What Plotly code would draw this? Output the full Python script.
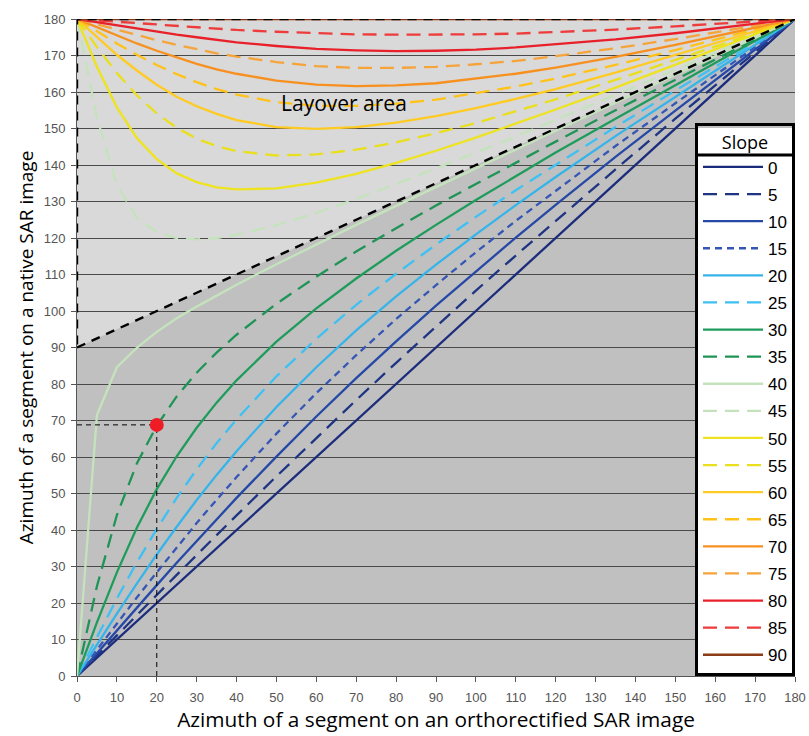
import plotly.graph_objects as go

# Azimuth on the orthorectified image (x) at which the curves were read
x_grid = [0, 5, 10, 15, 20, 25, 30, 35, 40, 50, 60, 70, 80, 90, 100, 110, 120, 135, 150, 165, 180]

# Azimuth on the native SAR image (y), one list per slope
s0 = [0, 5, 10, 15, 20, 25, 30, 35, 40, 50, 60, 70, 80, 90, 100, 110, 120, 135, 150, 165, 180]
s5 = [0, 5.6, 11.1, 16.7, 22.2, 27.7, 33.2, 38.6, 44.0, 54.7, 65.2, 75.6, 85.8, 95.7, 105.6, 115.2, 124.7, 138.8, 152.7, 166.4, 180]
s10 = [0, 6.3, 12.5, 18.7, 24.9, 31.0, 37.0, 43.0, 48.8, 60.1, 71.1, 81.6, 91.7, 101.5, 110.9, 120.1, 129.1, 142.2, 154.9, 167.5, 180]
s15 = [0, 7.2, 14.4, 21.5, 28.4, 35.2, 41.9, 48.3, 54.5, 66.4, 77.5, 87.9, 97.8, 107.1, 116.1, 124.7, 133.0, 145.2, 156.9, 168.5, 180]
s20 = [0, 8.6, 17.1, 25.3, 33.3, 40.9, 48.2, 55.1, 61.6, 73.7, 84.6, 94.7, 104.0, 112.7, 121.0, 129.0, 136.7, 147.9, 158.7, 169.4, 180]
s25 = [0, 10.7, 21.2, 31.1, 40.3, 48.8, 56.6, 63.8, 70.3, 82.1, 92.4, 101.7, 110.2, 118.2, 125.8, 133.1, 140.1, 150.4, 160.4, 170.2, 180]
s30 = [0, 14.7, 28.4, 40.6, 51.2, 60.2, 68.0, 74.9, 81.0, 91.6, 100.7, 108.9, 116.5, 123.6, 130.4, 137.0, 143.4, 152.7, 161.9, 171.0, 180]
s35 = [0, 24.6, 44.1, 58.2, 68.6, 76.6, 83.1, 88.6, 93.5, 102.0, 109.4, 116.3, 122.7, 128.9, 134.8, 140.7, 146.4, 155.0, 163.4, 171.7, 180]
s40 = [0, 71.5, 84.6, 89.9, 94.3, 98.0, 101.2, 104.3, 107.2, 112.8, 118.3, 123.6, 128.8, 134.0, 139.2, 144.3, 149.4, 157.1, 164.8, 172.4, 180]
s45 = [180, 153.0, 134.6, 125.5, 121.6, 120.0, 119.6, 120.0, 120.9, 123.5, 126.9, 130.7, 134.8, 139.0, 143.4, 147.8, 152.3, 159.2, 166.1, 173.0, 180]
s50 = [180, 166.9, 155.8, 147.4, 141.6, 137.7, 135.3, 133.9, 133.3, 133.6, 135.2, 137.6, 140.6, 143.9, 147.5, 151.3, 155.2, 161.2, 167.4, 173.7, 180]
s55 = [180, 172.3, 165.2, 159.1, 154.1, 150.2, 147.2, 145.2, 143.8, 142.6, 142.9, 144.2, 146.2, 148.7, 151.5, 154.7, 158.0, 163.3, 168.7, 174.3, 180]
s60 = [180, 175.0, 170.2, 165.9, 162.0, 158.7, 156.1, 154.0, 152.3, 150.4, 149.9, 150.4, 151.6, 153.4, 155.6, 158.1, 160.8, 165.3, 170.1, 175.0, 180]
s65 = [180, 176.6, 173.3, 170.2, 167.4, 164.9, 162.7, 160.8, 159.3, 157.2, 156.2, 156.2, 156.8, 157.9, 159.6, 161.5, 163.7, 167.4, 171.5, 175.7, 180]
s70 = [180, 177.7, 175.4, 173.3, 171.3, 169.4, 167.7, 166.2, 165.0, 163.1, 162.0, 161.6, 161.8, 162.4, 163.6, 165.0, 166.7, 169.6, 172.9, 176.4, 180]
s75 = [180, 178.5, 177.0, 175.6, 174.2, 172.9, 171.7, 170.6, 169.7, 168.2, 167.1, 166.6, 166.6, 166.9, 167.6, 168.5, 169.8, 172.0, 174.5, 177.2, 180]
s80 = [180, 179.1, 178.2, 177.3, 176.5, 175.7, 175.0, 174.3, 173.6, 172.6, 171.8, 171.4, 171.2, 171.3, 171.6, 172.2, 173.0, 174.4, 176.1, 178.0, 180]
s85 = [180, 179.6, 179.2, 178.8, 178.4, 178.0, 177.7, 177.3, 177.0, 176.5, 176.1, 175.8, 175.7, 175.7, 175.8, 176.0, 176.4, 177.1, 178.0, 179.0, 180]
s90 = [180, 180, 180, 180, 180, 180, 180, 180, 180, 180, 180, 180, 180, 180, 180, 180, 180, 180, 180, 180, 180]

slope_labels = ["0", "5", "10", "15", "20", "25", "30", "35", "40", "45",
                "50", "55", "60", "65", "70", "75", "80", "85", "90"]
slope_values = [s0, s5, s10, s15, s20, s25, s30, s35, s40, s45,
                s50, s55, s60, s65, s70, s75, s80, s85, s90]
colors = ["#1c2c7c", "#1f3583", "#2648a6", "#3556b4", "#36b4ea", "#3fc0f2", "#1f9c5c", "#1f9456",
          "#c4e3bc", "#c4e3bc", "#ede31e", "#e9df1c", "#ffcb23", "#ffc21a", "#f7901e", "#f6a33a",
          "#e8202a", "#ee3b3b", "#8b3c14"]
dashes = ["solid", "14px,8px", "solid", "7px,5px", "solid", "14px,8px", "solid", "14px,8px",
          "solid", "14px,8px", "solid", "14px,8px", "solid", "14px,8px", "solid", "14px,8px",
          "solid", "14px,8px", "solid"]

# Layover area boundary (image azimuth where layover begins)
layover_x = [0, 180, 0, 0]
layover_y = [90, 180, 180, 90]

# Worked example point
example_x = [20]
example_y = [68.8]

fig = go.Figure()

path = "M " + " L ".join(f"{a},{b}" for a, b in zip(layover_x, layover_y)) + " Z"
fig.add_shape(type="path", path=path, xref="x", yref="y", layer="below",
              fillcolor="#d9d9d9", line=dict(width=0))

for i, (lab, yv) in enumerate(zip(slope_labels, slope_values)):
    fig.add_trace(go.Scatter(
        x=x_grid, y=yv, mode="lines", name=lab, legendgroup=lab,
        line=dict(color=colors[i], width=2.3, dash=dashes[i]),
        cliponaxis=False,
    ))

fig.add_trace(go.Scatter(x=layover_x, y=layover_y, mode="lines", showlegend=False,
                         line=dict(color="black", width=2.4, dash="9px,7px"), cliponaxis=False))

fig.add_trace(go.Scatter(x=[0, example_x[0]], y=[example_y[0], example_y[0]], mode="lines",
                         showlegend=False, line=dict(color="black", width=1, dash="5px,4px")))
fig.add_trace(go.Scatter(x=[example_x[0], example_x[0]], y=[0, example_y[0]], mode="lines",
                         showlegend=False, line=dict(color="black", width=1, dash="5px,4px")))
fig.add_trace(go.Scatter(x=example_x, y=example_y, mode="markers", showlegend=False,
                         marker=dict(color="#ee1c24", size=14)))

fig.add_annotation(x=67, y=157, xref="x", yref="y", text="Layover area", showarrow=False,
                   font=dict(family="Open Sans", size=21, color="black"))

# white panel behind the (transparent) legend, and the line under its title
fig.add_shape(type="rect", xref="paper", yref="paper", x0=0.8635, x1=1.0, y0=0, y1=0.834,
              fillcolor="white", line=dict(width=0), layer="above")
fig.add_shape(type="line", xref="paper", yref="paper", x0=0.8635, x1=1.0, y0=0.793, y1=0.793,
              line=dict(color="black", width=3), layer="above")

tickfont = dict(family="Liberation Sans", size=13, color="#555555")
fig.update_xaxes(range=[0, 180], tick0=0, dtick=10, showgrid=False, zeroline=False,
                 ticks="outside", ticklen=5, tickcolor="#555555", showline=True,
                 linecolor="#555555", linewidth=1, tickfont=tickfont, automargin=False,
                 ticklabelstandoff=4,
                 title=dict(text="Azimuth of a segment on an orthorectified SAR image",
                            font=dict(family="Open Sans", size=20.8, color="black"), standoff=2))
fig.update_yaxes(range=[0, 180], tick0=0, dtick=10, showgrid=True, gridcolor="#4a4a4a",
                 gridwidth=1.2, zeroline=False, ticks="outside", ticklen=5, tickcolor="#555555",
                 showline=True, linecolor="#555555", linewidth=1, tickfont=tickfont,
                 automargin=False, ticklabelstandoff=3,
                 title=dict(text="Azimuth of a segment on a native SAR image",
                            font=dict(family="Open Sans", size=19, color="black"), standoff=5))

fig.update_layout(
    width=809, height=736,
    margin=dict(l=77, r=14, t=19, b=60, autoexpand=False),
    paper_bgcolor="white", plot_bgcolor="#c0c0c0",
    legend=dict(x=1, xanchor="right", y=0, yanchor="bottom",
                bgcolor="rgba(0,0,0,0)", bordercolor="black", borderwidth=3,
                font=dict(family="Liberation Sans", size=17, color="black"),
                title=dict(text="Slope", side="top center",
                           font=dict(family="Open Sans", size=18, color="black")),
                tracegroupgap=2.0, traceorder="grouped", itemwidth=60),
)

fig.write_html("out.html", config={"displayModeBar": False},
               post_script="document.body.style.margin='0px';")
